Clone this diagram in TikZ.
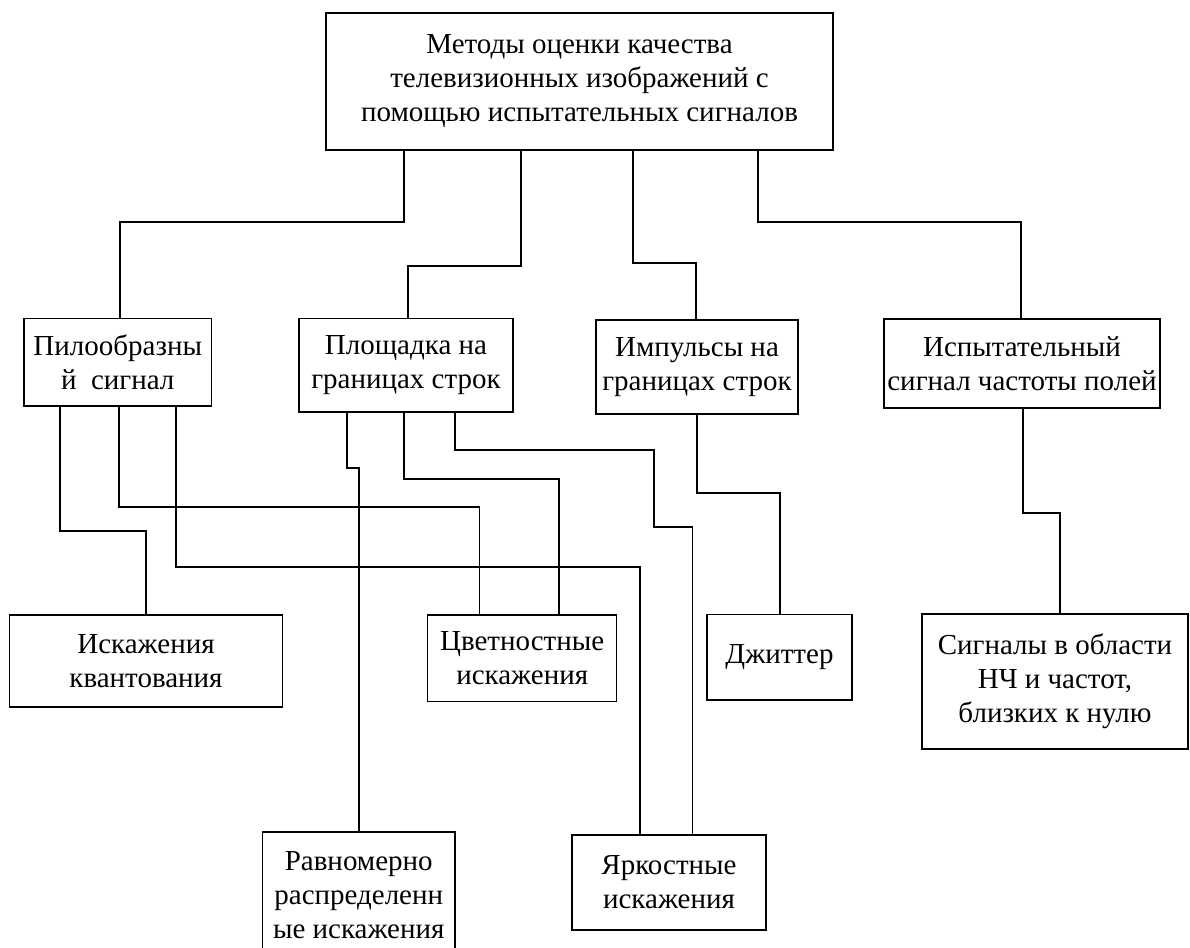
\documentclass[tikz,border=0pt]{standalone}
\usepackage{fontspec}
\setmainfont{Liberation Serif}

\tikzset{
  box/.style={draw, line width=1.4pt, align=center, inner sep=0pt,
    font=\fontsize{29}{34}\selectfont},
  link/.style={line width=1.2pt}
}

\begin{document}
\begin{tikzpicture}[x=1pt,y=-1pt]

  \useasboundingbox (0,0) rectangle (1190,947);

  \node[box, minimum width=507pt, minimum height=137pt] (top) at (579.5,81.5)
  {Методы оценки качества\\ телевизионных изображений с\\ помощью испытательных сигналов};

  \node[box, minimum width=187.5pt, minimum height=87.3pt] (pilo) at (117.75,362.3)
  {Пилообразны\\ й\ \ сигнал};
  \node[box, minimum width=214pt, minimum height=93.3pt] (plosh) at (406,365.3)
  {Площадка на\\ границах строк};
  \node[box, minimum width=202pt, minimum height=94pt] (imp) at (697,367)
  {Импульсы на\\ границах строк};
  \node[box, minimum width=276pt, minimum height=89pt] (isp) at (1022,363.5)
  {Испытательный\\ сигнал частоты полей};

  \node[box, minimum width=272.7pt, minimum height=92.3pt] (kvant) at (146,661)
  {Искажения\\ квантования};
  \node[box, minimum width=189pt, minimum height=86.7pt] (cvet) at (522.2,658.3)
  {Цветностные\\ искажения};
  \node[box, minimum width=145pt, minimum height=85.3pt] (jit) at (779.5,657.3)
  {Джиттер};
  \node[box, minimum width=266pt, minimum height=135pt] (nch) at (1055,681.5)
  {Сигналы в области\\ НЧ и частот,\\ близких к нулю};

  \node[box, minimum width=192.5pt, minimum height=126pt] (ravn) at (358.75,895)
  {Равномерно\\ распределенн\\ ые искажения};
  \node[box, minimum width=194pt, minimum height=95pt] (yark) at (669,882.5)
  {Яркостные\\ искажения};

  %% top -> second row
  \draw[link] (top.south -| 404,0) -- (404,222) -| (pilo.north -| 120,0);
  \draw[link] (top.south -| 521,0) -- (521,266) -| (plosh.north -| 408,0);
  \draw[link] (top.south -| 633,0) -- (633,263) -| (imp.north -| 696,0);
  \draw[link] (top.south -| 758,0) -- (758,222) -| (isp.north -| 1021,0);

  %% pilo -> kvant, cvet, yark
  \draw[link] (pilo.south -| 60,0) -- (60,531) -| (kvant.north -| 146,0);
  \draw[link] (pilo.south -| 119,0) -- (119,507) -| (cvet.north -| 479.5,0);
  \draw[link] (pilo.south -| 176,0) -- (176,567) -| (yark.north -| 640,0);

  %% plosh -> ravn, cvet, yark
  \draw[link] (plosh.south -| 347,0) -- (347,468) -| (ravn.north -| 359,0);
  \draw[link] (plosh.south -| 404,0) -- (404,479) -| (cvet.north -| 559,0);
  \draw[link] (plosh.south -| 455,0) -- (455,450) -- (654,450) -- (654,527)
    -| (yark.north -| 692.7,0);

  %% imp -> jit, isp -> nch
  \draw[link] (imp.south -| 697,0) -- (697,493) -| (jit.north -| 780,0);
  \draw[link] (isp.south -| 1023,0) -- (1023,513) -| (nch.north -| 1060,0);

\end{tikzpicture}
\end{document}
